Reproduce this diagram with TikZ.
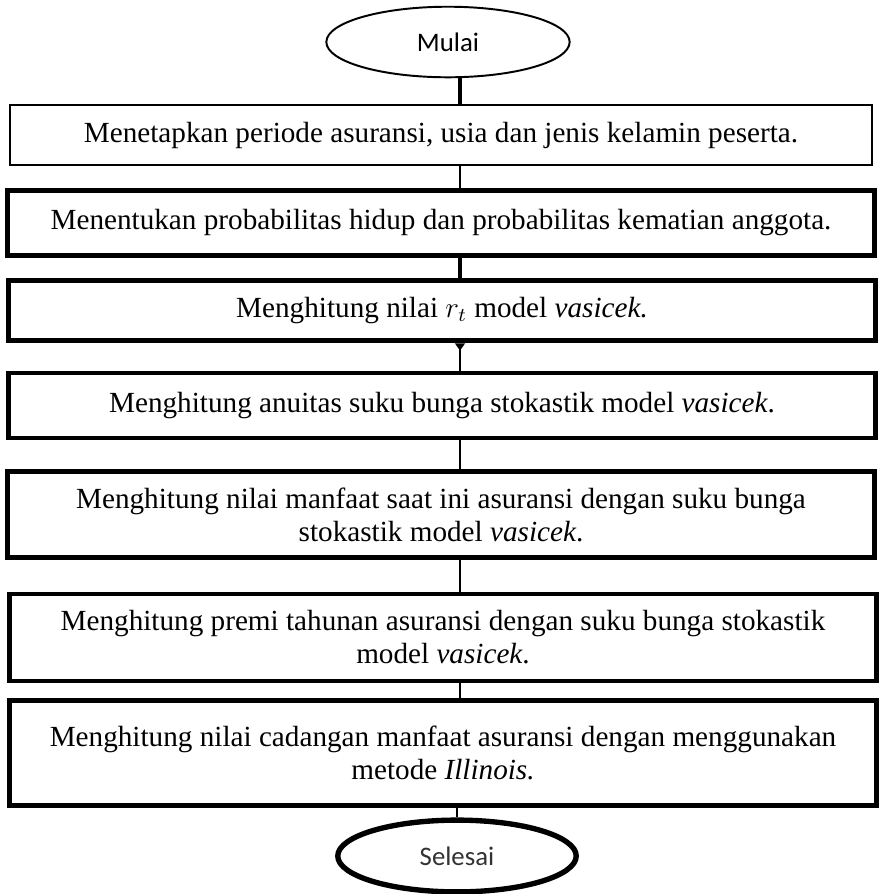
\documentclass[tikz,border=0pt]{standalone}
\usepackage{fontspec}
\setmainfont{Liberation Serif}
\newfontfamily\calibri{Carlito}
\usetikzlibrary{positioning, arrows.meta, shapes.geometric}

\begin{document}
\begin{tikzpicture}[
    x=0.411pt, y=-0.411pt,
    stepbox/.style={draw, rectangle, line width=2pt, minimum width=356pt, align=center, font=\fontsize{12}{13.6}\selectfont},
    terminal/.style={draw, ellipse, inner sep=0pt, font=\calibri\fontsize{11}{13}\selectfont},
    link/.style={line width=1.2pt}
]
    \useasboundingbox (0,0) rectangle (881,894);
    \coordinate (spine) at (460,0);

    % Start
    \node[terminal, line width=0.8pt, minimum width=100pt, minimum height=29pt] (mulai) at (448,42) {Mulai};

    % Steps
    \node[stepbox, line width=0.8pt, minimum width=354pt, minimum height=24.7pt] (s1) at (441,135)
        {Menetapkan periode asuransi, usia dan jenis kelamin peserta.};
    \node[stepbox, minimum width=356.5pt, minimum height=27pt] (s2) at (441,223)
        {Menentukan probabilitas hidup dan probabilitas kematian anggota.};
    \node[stepbox, minimum height=25pt] (s3) at (442,310.5)
        {Menghitung nilai $r_t$ model \textit{vasicek.}};
    \node[stepbox, minimum height=26.7pt] (s4) at (442,405.5)
        {Menghitung anuitas suku bunga stokastik model \textit{vasicek}.};
    \node[stepbox, minimum width=356.5pt, minimum height=35pt] (s5) at (441,514.5)
        {Menghitung nilai manfaat saat ini asuransi dengan suku bunga\\stokastik model \textit{vasicek}.};
    \node[stepbox, minimum height=35.8pt] (s6) at (443,637.5)
        {Menghitung premi tahunan asuransi dengan suku bunga stokastik\\model \textit{vasicek}.};
    \node[stepbox, minimum height=43pt] (s7) at (443,753)
        {Menghitung nilai cadangan manfaat asuransi dengan menggunakan\\metode \textit{Illinois.}};

    % End
    \node[terminal, line width=2.2pt, text=black!80, minimum width=98pt, minimum height=29.5pt] (selesai) at (457,856) {Selesai};

    % Connectors
    \draw[link, line width=1.6pt] (mulai.south -| spine) -- (s1.north -| spine);
    \draw[link] (s1.south -| spine) -- (s2.north -| spine);
    \draw[link, line width=1.6pt] (s2.south -| spine) -- (s3.north -| spine);
    \draw[link, {Triangle[reversed, length=3pt, width=4pt]}-] (s3.south -| spine) -- (s4.north -| spine);
    \draw[link] (s4.south -| spine) -- (s5.north -| spine);
    \draw[link] (s5.south -| spine) -- (s6.north -| spine);
    \draw[link] (s6.south -| spine) -- (s7.north -| spine);
    \draw[link, line width=0.9pt] (s7.south -| selesai) -- (selesai.north);
\end{tikzpicture}
\end{document}
